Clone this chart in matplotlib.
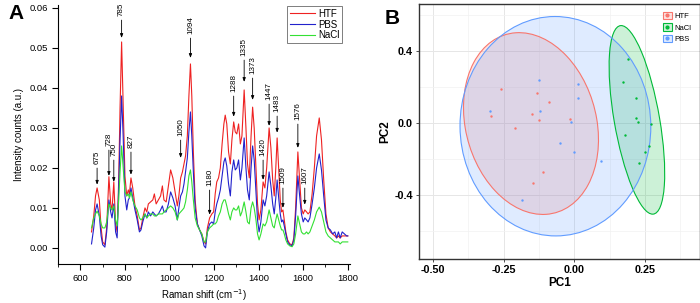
import numpy as np
import matplotlib
matplotlib.use("Agg")
import matplotlib.pyplot as plt
from matplotlib.patches import Ellipse, Patch
from matplotlib.lines import Line2D
from matplotlib.ticker import MultipleLocator

plt.rcParams['font.family'] = ['Liberation Sans', 'DejaVu Sans']

# === Spectra (panel A), intensity in units of 1e-3 a.u. ===
shift = [650, 660, 668, 675, 685, 693, 700, 710, 718, 728, 736, 742, 750, 758, 765,
         772, 778, 785, 792, 800, 808, 815, 820, 827, 835, 845, 855, 865, 872, 880,
         890, 898, 905, 915, 925, 932, 940, 950, 960, 968, 975, 985, 995, 1005, 1015,
         1025, 1035, 1042, 1050, 1058, 1065, 1072, 1080, 1087, 1094, 1100, 1107, 1115,
         1125, 1135, 1145, 1155, 1162, 1170, 1180, 1190, 1198, 1205, 1212, 1220, 1228,
         1236, 1244, 1250, 1257, 1265, 1273, 1280, 1288, 1295, 1302, 1310, 1318, 1325,
         1335, 1343, 1350, 1358, 1366, 1373, 1380, 1388, 1395, 1402, 1410, 1420, 1428,
         1436, 1447, 1455, 1463, 1470, 1477, 1483, 1490, 1497, 1503, 1509, 1515, 1522,
         1530, 1540, 1550, 1558, 1566, 1576, 1584, 1592, 1600, 1607, 1615, 1622, 1630,
         1640, 1650, 1660, 1672, 1682, 1692, 1702, 1712, 1722, 1732, 1742, 1750, 1758,
         1766, 1775, 1785, 1795, 1800]
htf = [4.0, 8.0, 13.0, 15.0, 12.0, 5.0, 1.5, 0.8, 5.0, 17.8, 11.0, 9.5, 16.5, 6.0, 4.0,
       17.0, 35.0, 51.5, 36.0, 18.0, 13.0, 14.5, 13.5, 17.5, 15.0, 10.5, 8.0, 4.5, 5.0, 7.5,
       10.0, 9.0, 11.0, 11.5, 12.0, 13.5, 11.0, 12.0, 13.0, 15.5, 12.0, 11.5, 15.5, 19.5, 17.5,
       14.0, 10.5, 13.0, 17.5, 19.0, 21.0, 23.0, 28.0, 38.0, 46.0, 38.0, 24.0, 12.0,
       6.0, 4.5, 3.5, 1.5, 1.0, 5.0, 7.5, 8.5, 9.0, 13.5, 16.5, 17.5, 20.0,
       26.0, 31.0, 33.2, 31.0, 24.0, 21.0, 27.0, 31.5, 29.0, 28.5, 31.0, 26.0, 28.0,
       39.5, 30.0, 21.0, 17.5, 28.0, 35.2, 30.0, 20.0, 11.0, 7.0, 9.5, 16.5, 15.0,
       20.0, 30.0, 25.0, 17.0, 13.0, 20.0, 27.5, 20.0, 12.0, 9.0, 9.5, 7.0, 4.0,
       2.0, 1.0, 0.8, 2.5, 10.0, 24.0, 17.0, 10.0, 8.5, 9.5, 9.0, 8.5, 9.0,
       13.5, 20.0, 28.0, 32.5, 27.0, 17.0, 8.5, 5.0, 4.0, 3.5, 3.0, 2.5, 3.0,
       2.5, 3.0, 3.0, 3.0, 3.0]
pbs = [1.0, 5.0, 9.5, 11.0, 8.0, 3.0, 0.8, 0.2, 4.0, 12.0, 9.0, 7.5, 11.0, 4.0, 2.5,
       15.0, 27.0, 38.0, 28.0, 13.0, 9.5, 12.0, 12.5, 15.0, 12.5, 9.5, 7.0, 4.0, 4.5, 6.5,
       8.5, 7.5, 9.0, 8.0, 9.0, 8.5, 8.0, 8.5, 9.5, 10.5, 9.0, 9.0, 11.0, 14.0, 12.5,
       10.5, 7.0, 10.0, 13.0, 14.0, 16.0, 19.0, 22.5, 29.0, 34.0, 28.0, 19.0, 10.0,
       6.0, 4.5, 3.0, 0.5, 0.0, 4.0, 6.0, 6.5, 6.0, 9.0, 11.0, 12.5, 14.5,
       18.0, 21.5, 22.5, 20.5, 16.0, 13.0, 19.0, 22.0, 19.5, 20.0, 22.0, 17.0, 20.0,
       27.5, 20.0, 14.5, 12.0, 20.0, 25.5, 22.0, 14.0, 7.0, 4.0, 6.5, 12.0, 10.5,
       13.0, 19.0, 15.5, 11.0, 8.5, 12.5, 17.0, 12.5, 8.5, 6.5, 7.0, 5.5, 3.5,
       1.5, 0.8, 0.5, 2.0, 8.0, 18.0, 13.0, 8.5, 6.5, 7.5, 7.0, 6.5, 7.5,
       11.0, 15.0, 20.0, 23.5, 19.5, 13.0, 7.0, 5.0, 4.5, 3.5, 4.0, 2.5, 4.0,
       2.5, 4.0, 3.5, 3.0, 3.0]
nacl = [5.0, 7.5, 8.5, 9.2, 8.0, 6.0, 5.0, 5.0, 6.5, 11.0, 10.0, 9.5, 10.5, 7.0, 5.5,
        12.0, 19.0, 25.5, 20.0, 14.0, 13.0, 13.5, 12.5, 14.0, 12.0, 10.5, 9.5, 7.5, 7.0, 7.5,
        8.5, 7.5, 8.0, 8.5, 8.5, 8.0, 8.0, 8.5, 8.5, 8.5, 9.0, 9.5, 10.0, 10.5, 10.0,
        9.0, 7.0, 8.5, 9.0, 9.5, 10.0, 11.5, 14.5, 18.0, 19.5, 16.5, 12.0, 7.5,
        5.5, 4.5, 3.5, 1.5, 1.5, 4.0, 5.0, 5.5, 6.0, 6.0, 6.5, 8.0, 9.0,
        11.0, 12.0, 12.0, 10.5, 8.5, 7.0, 9.0, 10.0, 9.5, 9.5, 10.5, 8.0, 9.0,
        11.5, 9.0, 6.5, 6.0, 10.0, 11.5, 10.0, 7.0, 3.5, 2.0, 3.5, 6.0, 5.5,
        6.5, 9.5, 7.5, 5.5, 5.0, 7.0, 8.5, 7.0, 5.5, 4.5, 4.5, 3.5, 2.0,
        1.0, 0.5, 0.3, 1.0, 3.5, 8.0, 6.0, 4.0, 3.5, 3.5, 4.0, 3.5, 4.0,
        5.5, 7.0, 9.0, 10.2, 9.0, 6.5, 4.0, 3.0, 2.5, 2.0, 1.5, 1.5, 1.5,
        1.0, 1.5, 1.5, 1.5, 1.5]

# peak labels: position, arrow tip, label base (1e-3 a.u.)
peak_pos = [675, 728, 750, 785, 827, 1050, 1094, 1180, 1288, 1335, 1373, 1420, 1447, 1483, 1509, 1576, 1607]
peak_tip = [15.8, 18.0, 16.5, 52.5, 18.3, 22.5, 47.5, 8.3, 32.8, 41.5, 37.0, 17.0, 30.5, 28.8, 10.0, 25.0, 10.8]
peak_txt = [21.0, 25.5, 23.0, 58.0, 25.0, 28.0, 53.5, 15.5, 39.0, 48.0, 43.5, 23.0, 37.0, 34.0, 16.0, 32.0, 16.0]

# === PCA scores (panel B) ===
groups = ["HTF", "NaCl", "PBS"]
colors_b = ["#F8766D", "#00BA38", "#619CFF"]
pc1 = {
    "HTF": [-0.259, -0.293, -0.210, -0.151, -0.130, -0.125, -0.088, -0.016, -0.110, -0.147],
    "NaCl": [0.192, 0.173, 0.218, 0.219, 0.225, 0.272, 0.178, 0.263, 0.249, 0.229],
    "PBS": [-0.298, -0.125, -0.120, 0.014, 0.013, -0.011, -0.051, 0.000, 0.096, -0.183],
}
pc2 = {
    "HTF": [0.188, 0.039, -0.028, 0.050, 0.166, 0.014, 0.116, 0.024, -0.275, -0.333],
    "NaCl": [0.352, 0.225, 0.138, 0.028, 0.007, -0.006, -0.066, -0.126, -0.163, -0.224],
    "PBS": [0.063, 0.236, 0.068, 0.218, 0.136, 0.002, -0.111, -0.163, -0.211, -0.425],
}
F95 = 4.2565  # qf(0.95, 2, 9)

fig = plt.figure(figsize=(7.0, 3.03), dpi=100)

# ----- Panel A -----
ax = fig.add_axes([0.083, 0.129, 0.417, 0.854])
x = np.array(shift)
ax.plot(x, np.array(htf) / 1000, color="#ee2222", lw=0.8, label="HTF")
ax.plot(x, np.array(pbs) / 1000, color="#2222cc", lw=0.8, label="PBS")
ax.plot(x, np.array(nacl) / 1000, color="#33e033", lw=0.8, label="NaCl")
for p, t, s in zip(peak_pos, peak_tip, peak_txt):
    ax.annotate(str(p), xy=(p, t / 1000), xytext=(p, s / 1000), rotation=90,
                ha="center", va="bottom", fontsize=5.8, annotation_clip=False,
                arrowprops=dict(arrowstyle="-|>,head_length=0.4,head_width=0.15",
                                color="black", lw=0.6, shrinkA=1, shrinkB=0))
ax.set_xlim(500, 1810)
ax.set_ylim(-0.004, 0.0607)
ax.xaxis.set_major_locator(MultipleLocator(200))
ax.xaxis.set_minor_locator(MultipleLocator(100))
ax.yaxis.set_major_locator(MultipleLocator(0.01))
ax.yaxis.set_major_formatter(matplotlib.ticker.FormatStrFormatter("%.2f"))
ax.spines["top"].set_visible(False)
ax.spines["right"].set_visible(False)
ax.tick_params(labelsize=6.8, length=4, width=0.8)
ax.tick_params(which="minor", length=2.5)
ax.set_xlabel("Raman shift (cm$^{-1}$)", fontsize=7, labelpad=3)
ax.set_ylabel("Intensity counts (a.u.)", fontsize=7, labelpad=4)
leg = ax.legend(loc="upper right", bbox_to_anchor=(0.975, 1.0), fontsize=7, frameon=True,
                fancybox=False, edgecolor="#444444", handlelength=2.6, borderpad=0.25,
                labelspacing=0.1, handletextpad=0.3, borderaxespad=0.1)
leg.get_frame().set_linewidth(0.6)
fig.text(0.023, 0.955, "A", fontsize=15, fontweight="bold", ha="center", va="center")

# ----- Panel B -----
bx = fig.add_axes([0.599, 0.145, 0.401, 0.842])
bx.set_facecolor("white")
for g, c in zip(groups, colors_b):
    px = np.array(pc1[g])
    py = np.array(pc2[g])
    cov = np.cov(px, py)
    vals, vecs = np.linalg.eigh(cov)
    r = np.sqrt(2 * F95)
    ang = np.degrees(np.arctan2(vecs[1, 1], vecs[0, 1]))
    e = Ellipse((px.mean(), py.mean()), 2 * r * np.sqrt(vals[1]), 2 * r * np.sqrt(vals[0]),
                angle=ang, facecolor=c, alpha=0.2, edgecolor="none", zorder=2)
    bx.add_patch(e)
    e2 = Ellipse((px.mean(), py.mean()), 2 * r * np.sqrt(vals[1]), 2 * r * np.sqrt(vals[0]),
                 angle=ang, facecolor="none", edgecolor=c, lw=0.8, zorder=3)
    bx.add_patch(e2)
for g, c in zip(groups, colors_b):
    bx.scatter(pc1[g], pc2[g], s=3, color=c, zorder=4, linewidths=0)
bx.set_xlim(-0.548, 0.445)
bx.set_ylim(-0.755, 0.659)
bx.set_xticks([-0.50, -0.25, 0.00, 0.25])
bx.set_xticklabels(["-0.50", "-0.25", "0.00", "0.25"])
bx.set_yticks([-0.4, 0.0, 0.4])
bx.set_yticklabels(["-0.4", "0.0", "0.4"])
bx.set_xticks([-0.375, -0.125, 0.125, 0.375], minor=True)
bx.set_yticks([-0.6, -0.2, 0.2, 0.6], minor=True)
bx.grid(True, which="major", color="#e6e6e6", lw=0.7, zorder=0)
bx.grid(True, which="minor", color="#f2f2f2", lw=0.5, zorder=0)
bx.set_axisbelow(True)
for s in bx.spines.values():
    s.set_color("#333333")
    s.set_linewidth(1.0)
bx.tick_params(which="major", labelsize=7.8, length=2.5, width=0.6, color="#333333", pad=2)
bx.tick_params(which="minor", length=0)
for lbl in bx.get_xticklabels() + bx.get_yticklabels():
    lbl.set_fontweight("bold")
bx.set_xlabel("PC1", fontsize=8.5, fontweight="bold", labelpad=1)
bx.set_ylabel("PC2", fontsize=8.5, fontweight="bold", labelpad=2)
handles = [(Patch(facecolor=c, alpha=0.2, edgecolor="none"),
            Patch(facecolor="none", edgecolor=c, lw=0.8),
            Line2D([], [], marker="o", ls="", color=c, ms=2)) for c in colors_b]
bleg = bx.legend(handles, groups, loc="upper right", bbox_to_anchor=(0.995, 0.995), fontsize=5.5,
                 frameon=False, handlelength=1.1, handleheight=1.1, labelspacing=0.4,
                 handletextpad=0.4)
fig.text(0.56, 0.94, "B", fontsize=15, fontweight="bold", ha="center", va="center")

fig.savefig("out.png", dpi=100)
